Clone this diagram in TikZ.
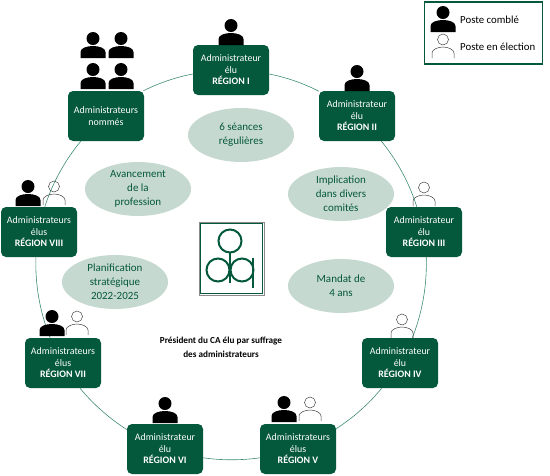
\documentclass[tikz,border=0pt]{standalone}
\usepackage{fontspec}
\setmainfont{Carlito}
\usetikzlibrary{positioning,calc,shapes.geometric}
\definecolor{caGreen}{HTML}{04583C}
\definecolor{caLine} {HTML}{3F8C72}
\definecolor{caLight}{HTML}{C6D9D0}
\definecolor{caGrey} {HTML}{8A8A8A}
\begin{document}
\begin{tikzpicture}[x=1pt,y=-1pt,
        region/.style={draw=none,fill=caGreen,rounded corners=5pt,text=white,
                   minimum width=76pt,minimum height=50pt,inner sep=1pt,align=center,
                   font=\fontsize{9.9}{11.5}\selectfont},
        theme/.style={ellipse,fill=caLight,text=caGreen,minimum width=106pt,minimum height=54pt,
                   inner sep=0pt,align=center,font=\fontsize{11}{14}\selectfont},
        legendtext/.style={anchor=west,inner sep=0pt,font=\fontsize{10.8}{12}\selectfont},
        link/.style={caLine,line width=.6pt,looseness=.85},
        filled/.pic={\fill[black] (0,-19.5) circle (6.5);
                   \fill[black] (-12.5,0) -- (-12.5,-6) .. controls (-12.5,-10) and (-6,-12) .. (0,-12)
                        .. controls (6,-12) and (12.5,-10) .. (12.5,-6) -- (12.5,0) -- cycle;},
        open/.pic={\draw[black!75,line width=.5pt] (0,-18.5) circle (5.5);
                   \draw[black!75,line width=.5pt] (-11,0) -- (-11,-5) .. controls (-11,-8.5) and (-5,-11) .. (0,-11)
                        .. controls (5,-11) and (11,-8.5) .. (11,-5) -- (11,0);}]
        \useasboundingbox (0,0) rectangle (550,475);
        \node[region] (r1) at (231,70) {Administrateur\\élu\\\textbf{RÉGION I}};
        \node[region] (nom) at (106,116) {Administrateurs\\nommés};
        \node[region] (r2) at (357,116) {Administrateur\\élu\\\textbf{RÉGION II}};
        \node[region] (r3) at (424,232) {Administrateur\\élu\\\textbf{RÉGION III}};
        \node[region] (r4) at (400,363) {Administrateur\\élu\\\textbf{RÉGION IV}};
        \node[region] (r5) at (298,449) {Administrateurs\\élus\\\textbf{RÉGION V}};
        \node[region] (r6) at (165,449) {Administrateur\\élu\\\textbf{RÉGION VI}};
        \node[region] (r7) at (63,363) {Administrateurs\\élus\\\textbf{RÉGION VII}};
        \node[region] (r8) at (39,232) {Administrateurs\\élus\\\textbf{RÉGION VIII}};
        \draw[link] (nom.34) to[bend left=8] (r1.186);
        \draw[link] (r1.-6) to[bend left=8] (r2.147);
        \draw[link] (r2.-46) to[bend left=11] (r3.106);
        \draw[link] (r3.-85) to[bend left=12] (r4.64);
        \draw[link] (r4.-126) to[bend left=9] (r5.28);
        \draw[link] (r5.193) to[bend left=8] (r6.-13);
        \draw[link] (r6.153) to[bend left=9] (r7.-56);
        \draw[link] (r7.117) to[bend left=12] (r8.-97);
        \draw[link] (r8.77) to[bend left=11] (nom.-135);
        \node[theme] (t1) at (241,135) {6 séances\\régulières};
        \node[theme] (t2) at (341,194) {Implication\\dans divers\\comités};
        \node[theme] (t3) at (341,286) {Mandat de\\4 ans};
        \node[theme] (t4) at (138,189) {Avancement\\de la\\profession};
        \node[theme] (t5) at (115,282) {Planification\\stratégique\\2022-2025};
        \node[align=center,font=\fontsize{9.2}{14}\selectfont\bfseries] (pres) at (221,347)
            {Président du CA élu par suffrage\\des administrateurs};
        % personnes
        \pic at (231,45) {filled};
        \pic at (93,58) {filled};
        \pic at (121,58) {filled};
        \pic at (93,89) {filled};
        \pic at (121,89) {filled};
        \pic at (357,91) {filled};
        \pic at (424,206) {open};
        \pic at (402,338) {open};
        \pic at (284,422) {filled};
        \pic at (310,421) {open};
        \pic at (165,423) {filled};
        \pic at (52,336) {filled};
        \pic at (77,335) {open};
        \pic at (28,206) {filled};
        \pic at (54,205) {open};
        % logo
        \draw[caGrey,line width=1pt,fill=white] (199,222) rectangle (264,295);
        \draw[caGreen,line width=1.3pt] (200.2,223.2) rectangle (262.8,293.8);
        \draw[caGreen,line width=2pt] (230,241) circle (11.5);
        \draw[caGreen,line width=2pt] (218,270) circle (11.5);
        \draw[caGreen,line width=2pt] (242,270) circle (11.5);
        \draw[caGreen,line width=2pt] (230,252) -- (230,283);
        \draw[caGreen,line width=2pt] (253,258) -- (253,288);
        % legende
        \node[draw=caGreen,line width=1.2pt,fill=white,minimum width=118pt,minimum height=62pt] (legend) at (483.5,33) {};
        \pic at (443,32) {filled};
        \pic at (443,58) {open};
        \node[legendtext] (lc) at (460,20) {Poste comblé};
        \node[legendtext] (le) at (460,47) {Poste en élection};
      \end{tikzpicture}
\end{document}
